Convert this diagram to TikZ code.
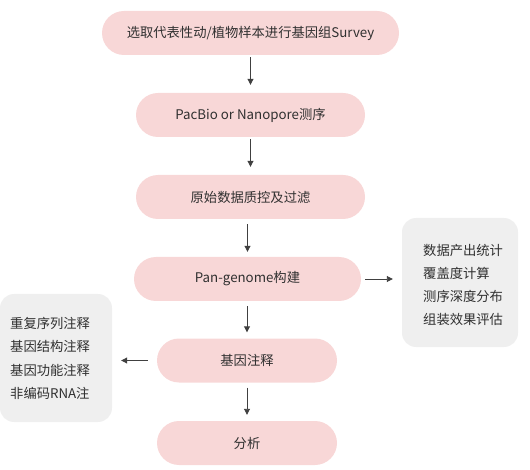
\documentclass[tikz,border=0pt]{standalone}
\usepackage{fontspec}
\setmainfont{Noto Sans CJK SC}
\usetikzlibrary{arrows.meta}
\definecolor{pinkfill}{HTML}{F8D7D7}
\definecolor{greyfill}{HTML}{EFEFEF}
\definecolor{txt}{HTML}{303030}
\definecolor{ln}{HTML}{404040}
\begin{document}
\begin{tikzpicture}[x=1pt,y=-1pt,
  stepbox/.style={fill=pinkfill,draw=none,rounded corners=22pt,minimum height=44pt,inner sep=0pt,text=txt,font=\fontsize{13.3pt}{15pt}\selectfont},
  infobox/.style={fill=greyfill,draw=none,rounded corners=14pt,inner sep=0pt},
  infotext/.style={text=txt,font=\fontsize{13.3pt}{23.3pt}\selectfont,align=left,anchor=west,inner sep=0pt},
  arr/.style={draw=ln,line width=0.9pt,-{Triangle[length=6pt,width=6pt]}}]
\useasboundingbox (0,0) rectangle (530,470);
\node[stepbox,minimum width=297pt] (b1) at (250.5,33) {选取代表性动/植物样本进行基因组Survey};
\node[stepbox,minimum width=229pt] (b2) at (250.5,115) {PacBio or Nanopore测序};
\node[stepbox,minimum width=229pt] (b3) at (250.5,197) {原始数据质控及过滤};
\node[stepbox,minimum width=227pt] (b4) at (247.5,279) {Pan-genome构建};
\node[stepbox,minimum width=180pt] (b5) at (247,360.5) {基因注释};
\node[stepbox,minimum width=180pt] (b6) at (247,443) {分析};
\node[infobox,minimum width=116pt,minimum height=129pt] (r) at (460,282.5) {};
\node[infobox,minimum width=112pt,minimum height=128pt] (l) at (56,358) {};
\node[infotext] (rt) at (423,285) {数据产出统计\\覆盖度计算\\测序深度分布\\组装效果评估};
\node[infotext] (lt) at (10,358.5) {重复序列注释\\基因结构注释\\基因功能注释\\非编码RNA注};
\draw[arr,shorten <=2pt,shorten >=8pt] (b1) -- (b2);
\draw[arr,shorten <=2pt,shorten >=8pt] (b2) -- (b3);
\draw[arr,shorten <=5pt,shorten >=5pt] (b3.south -| b4.north) -- (b4.north);
\draw[arr,shorten <=5pt,shorten >=6pt] (b4.south -| b5.north) -- (b5.north);
\draw[arr,shorten <=5pt,shorten >=6pt] (b5) -- (b6);
\draw[arr,shorten <=4pt,shorten >=9pt] (b4.east) -- (b4.east -| r.west);
\draw[arr,shorten <=9pt,shorten >=9pt] (b5.west) -- (b5.west -| l.east);
\end{tikzpicture}
\end{document}
